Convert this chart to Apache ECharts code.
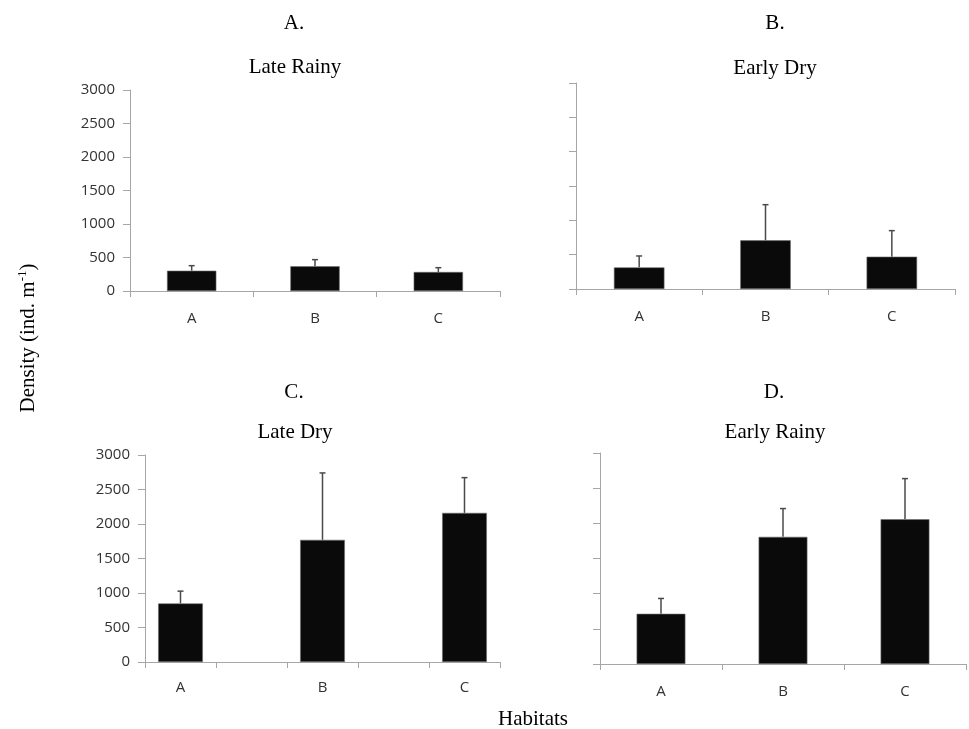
<!DOCTYPE html>
<html>
<head>
<meta charset="utf-8">
<script src="https://cdn.jsdelivr.net/npm/echarts@6/dist/echarts.min.js"></script>
<style>
html,body{margin:0;padding:0;background:#fff;}
#chart{width:969px;height:729px;}
</style>
</head>
<body>
<div id="chart"></div>
<script>
// Data
const habitats = ['A', 'B', 'C'];
const yTicks = [0, 500, 1000, 1500, 2000, 2500, 3000];

const lateRainyMean = [303, 369, 284];
const lateRainySE = [75, 99, 64];

const earlyDryMean = [315, 709, 471];
const earlyDrySE = [166, 519, 379];

const lateDryMean = [849, 1770, 2161];
const lateDrySE = [178, 970, 511];

const earlyRainyMean = [714, 1808, 2058];
const earlyRainySE = [218, 402, 578];

const panelLetters = ['A.', 'B.', 'C.', 'D.'];
const panelTitles = ['Late Rainy', 'Early Dry', 'Late Dry', 'Early Rainy'];

const chart = echarts.init(document.getElementById('chart'), null, {renderer: 'canvas'});

const axisColor = '#a6a6a6';
const labelColor = '#333333';
const sansFont = 'Open Sans';
const serifFont = 'Liberation Serif';

// grids (pixel boxes)
const grids = [
  {left: 130, top: 90, width: 370, height: 201},
  {left: 576, top: 83, width: 379, height: 206},
  {left: 145, top: 455, width: 355, height: 207},
  {left: 600, top: 453, width: 366, height: 211}
];

// Panel C uses spacer bands between categories
const spacedCats = [];
habitats.forEach((h, i) => { spacedCats.push(h); if (i < habitats.length - 1) spacedCats.push(''); });

const panels = [
  {mean: lateRainyMean, se: lateRainySE, cats: habitats, step: 1, barWidth: '40%', showY: true, labelMargin: 20},
  {mean: earlyDryMean, se: earlyDrySE, cats: habitats, step: 1, barWidth: '40%', showY: false, labelMargin: 20},
  {mean: lateDryMean, se: lateDrySE, cats: spacedCats, step: 2, barWidth: '63%', showY: true, labelMargin: 18},
  {mean: earlyRainyMean, se: earlyRainySE, cats: habitats, step: 1, barWidth: '40%', showY: false, labelMargin: 20}
];

const xAxes = [], yAxes = [], series = [];
panels.forEach((p, gi) => {
  xAxes.push({
    type: 'category', gridIndex: gi, data: p.cats, boundaryGap: true,
    axisLine: {lineStyle: {color: axisColor, width: 1}},
    axisTick: {show: true, interval: 0, length: 6, lineStyle: {color: axisColor}},
    axisLabel: {interval: 0, color: labelColor, fontFamily: sansFont, fontSize: 15, margin: p.labelMargin},
    splitLine: {show: false}
  });
  yAxes.push({
    type: 'value', gridIndex: gi, min: yTicks[0], max: yTicks[yTicks.length - 1], interval: 500,
    axisLine: {show: true, lineStyle: {color: axisColor, width: 1}},
    axisTick: {show: true, length: 7, lineStyle: {color: axisColor}},
    axisLabel: {show: p.showY, color: labelColor, fontFamily: sansFont, fontSize: 15, margin: 15,
      formatter: v => String(v)},
    splitLine: {show: false}
  });
  const barData = [];
  const errData = [];
  p.cats.forEach(() => barData.push('-'));
  p.mean.forEach((m, i) => {
    const idx = i * p.step;
    barData[idx] = m;
    errData.push([idx, m, m + p.se[i]]);
  });
  series.push({
    type: 'bar', xAxisIndex: gi, yAxisIndex: gi, data: barData, barWidth: p.barWidth,
    itemStyle: {color: '#0a0a0a', borderColor: '#6e6e6e', borderWidth: 0.6},
    silent: true, animation: false
  });
  series.push({
    type: 'custom', xAxisIndex: gi, yAxisIndex: gi, data: errData, animation: false, silent: true,
    renderItem: function (params, api) {
      const base = api.coord([api.value(0), api.value(1)]);
      const top = api.coord([api.value(0), api.value(2)]);
      const hw = 3;
      const style = {stroke: '#4a4a4a', lineWidth: 1.5};
      return {
        type: 'group',
        children: [
          {type: 'line', shape: {x1: base[0], y1: base[1], x2: top[0], y2: top[1]}, style: style},
          {type: 'line', shape: {x1: top[0] - hw, y1: top[1], x2: top[0] + hw, y2: top[1]}, style: style}
        ]
      };
    }
  });
});

const letterPos = [[294, 23], [775, 23], [294, 392], [774, 392]];
const titlePos = [[295, 67], [775, 68], [295, 432], [775, 432]];
const graphics = [];
panelLetters.forEach((t, i) => {
  graphics.push({type: 'text', x: letterPos[i][0], y: letterPos[i][1],
    style: {text: t, font: '21px "' + serifFont + '"', fill: '#000', textAlign: 'center', textVerticalAlign: 'middle'}});
});
panelTitles.forEach((t, i) => {
  graphics.push({type: 'text', x: titlePos[i][0], y: titlePos[i][1],
    style: {text: t, font: '21px "' + serifFont + '"', fill: '#000', textAlign: 'center', textVerticalAlign: 'middle'}});
});
graphics.push({type: 'text', x: 533, y: 719,
  style: {text: 'Habitats', font: '21px "' + serifFont + '"', fill: '#000', textAlign: 'center', textVerticalAlign: 'middle'}});
graphics.push({type: 'text', x: 28, y: 338, rotation: Math.PI / 2,
  style: {
    text: '{m|Density (ind. m}{s|-1}{m|)}',
    rich: {
      m: {fontFamily: serifFont, fontSize: 21, fill: '#000', color: '#000'},
      s: {fontFamily: serifFont, fontSize: 13, fill: '#000', color: '#000', verticalAlign: 'top', padding: [0, 0, 10, 0]}
    },
    textAlign: 'center', textVerticalAlign: 'middle'
  }});

chart.setOption({
  animation: false,
  backgroundColor: '#fff',
  grid: grids.map(g => Object.assign({containLabel: false}, g)),
  xAxis: xAxes,
  yAxis: yAxes,
  series: series,
  graphic: graphics
});
</script>
</body>
</html>
